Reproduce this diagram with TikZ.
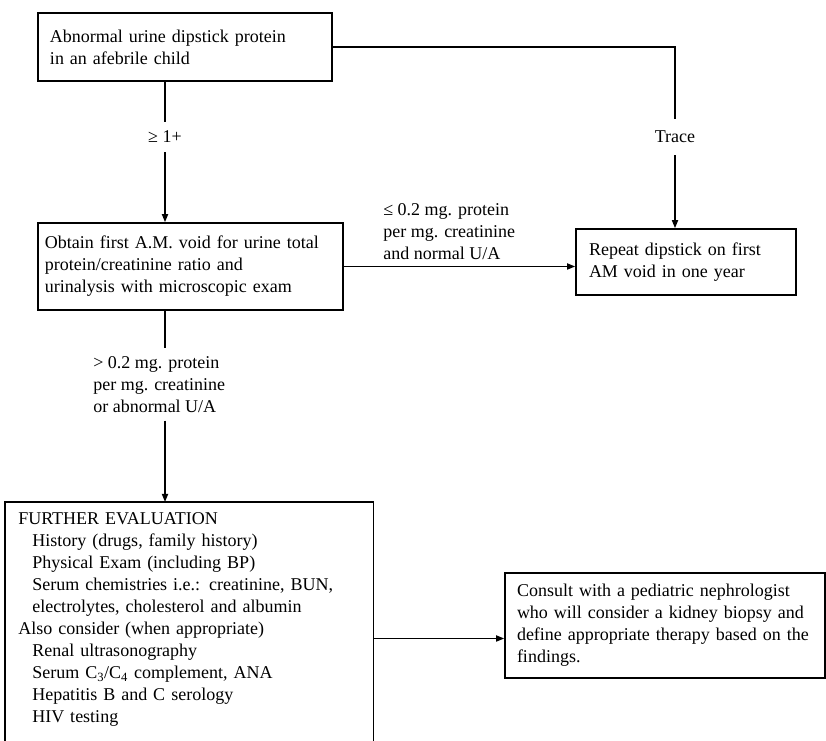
\documentclass[tikz,border=0pt]{standalone}
\usepackage{fontspec}
\setmainfont{Liberation Serif}
\usetikzlibrary{arrows.meta, calc}

\tikzset{
  flowbox/.style={draw, line width=1.2pt, align=left, inner xsep=9pt, font=\fontsize{13.5pt}{16.5pt}\selectfont},
  flowlabel/.style={align=left, font=\fontsize{13.5pt}{16.5pt}\selectfont},
  flowline/.style={line width=1.2pt},
  flowarrow/.style={line width=1.2pt, -{Triangle[length=6pt,width=4.5pt]}}
}

\begin{document}
\begin{tikzpicture}[x=0.75pt,y=0.75pt,yscale=-1,xscale=1]
    \useasboundingbox (0,0) rectangle (826,741);

    % Text Node
    \node [flowbox, text width=202.5pt, minimum height=51pt] (dipstick) at (185,47) {Abnormal urine dipstick protein\\in an afebrile child};
    % Text Node
    \node [flowbox, inner xsep=5.25pt, text width=218.25pt, minimum height=65.25pt] (firstvoid) at (190.5,266.5) {Obtain first A.M. void for urine total\\protein/creatinine ratio and\\urinalysis with microscopic exam};
    % Text Node
    \node [flowbox, inner xsep=9.75pt, text width=145.5pt, minimum height=49.5pt] (repeat) at (686,262) {Repeat dipstick on first\\AM void in one year};
    % Text Node
    \node [flowlabel, anchor=north west, inner xsep=9.75pt, inner ysep=8pt, text width=256.5pt] (further) at (5,502) {FURTHER EVALUATION\\
    \hspace*{10.5pt}History (drugs, family history)\\
    \hspace*{10.5pt}Physical Exam (including BP)\\
    \hspace*{10.5pt}Serum chemistries i.e.: creatinine, BUN,\\
    \hspace*{10.5pt}electrolytes, cholesterol and albumin\\
    Also consider (when appropriate)\\
    \hspace*{10.5pt}Renal ultrasonography\\
    \hspace*{10.5pt}Serum C\textsubscript{3}/C\textsubscript{4} complement, ANA\\
    \hspace*{10.5pt}Hepatitis B and C serology\\
    \hspace*{10.5pt}HIV testing};
    \coordinate (pageend) at (0,741);
    \draw [flowline] (further.north west |- pageend) -- (further.north west) -- (further.north east) -- (further.north east |- pageend);
    % Text Node
    \node [flowbox, text width=222pt, minimum height=78.75pt] (consult) at (665,625.5) {Consult with a pediatric nephrologist\\who will consider a kidney biopsy and\\define appropriate therapy based on the\\findings.};

    % Labels
    \node [flowlabel, inner sep=6.75pt] (geone) at (165,137) {≥ 1+};
    \node [flowlabel, inner sep=9pt] (trace) at (675,137) {Trace};
    \node [flowlabel, anchor=south west, inner sep=0pt] (lenormal) at (383,260) {≤ 0.2 mg. protein\\per mg. creatinine\\and normal U/A};
    \node [flowlabel, anchor=north west, inner xsep=0pt, inner ysep=6pt] (gtabnormal) at (93,348) {> 0.2 mg. protein\\per mg. creatinine\\or abnormal U/A};

    %Straight Lines
    \draw [flowline] (dipstick.south -| geone.north) -- (geone.north);
    \draw [flowarrow] (geone.south) -- (geone.south |- firstvoid.north);
    %Straight Lines
    \draw [flowline] (dipstick.east) -| (trace.north);
    \draw [flowarrow] (trace.south) -- (trace.south |- repeat.north);
    %Straight Lines
    \draw [flowarrow] (firstvoid.east) -- (firstvoid.east -| repeat.west);
    %Straight Lines
    \draw [flowline] (firstvoid.south -| geone.south) -- (gtabnormal.north -| geone.south);
    \draw [flowarrow] (gtabnormal.south -| geone.south) -- (further.north -| geone.south);
    %Straight Lines
    \coordinate (consultin) at ($(consult.west)+(0,13)$);
    \draw [flowarrow] (consultin -| further.east) -- (consultin);

\end{tikzpicture}
\end{document}
